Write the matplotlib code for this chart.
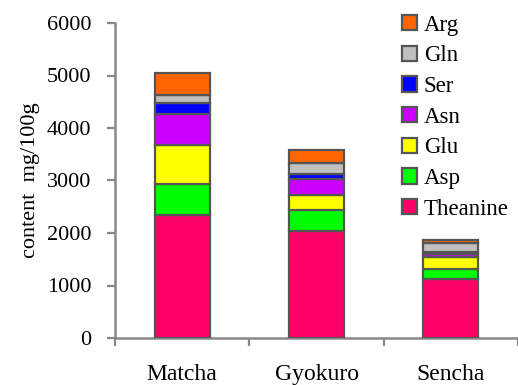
import numpy as np
import matplotlib
matplotlib.use("Agg")
import matplotlib.pyplot as plt

plt.rcParams['font.family'] = ['Liberation Serif', 'DejaVu Serif']

teas = ['Matcha', 'Gyokuro', 'Sencha']
amino = ['Theanine', 'Asp', 'Glu', 'Asn', 'Ser', 'Gln', 'Arg']
# mg/100g, one list per amino acid (Matcha, Gyokuro, Sencha)
theanine = [2350, 2030, 1130]
asp = [580, 400, 190]
glu = [740, 290, 230]
asn = [590, 310, 55]
ser = [220, 100, 25]
gln = [140, 200, 175]
arg = [430, 260, 65]
colors = ['#FF0066', '#00FF00', '#FFFF00', '#CC00FF', '#0000FF', '#C0C0C0', '#FF6600']

series = [theanine, asp, glu, asn, ser, gln, arg]

fig = plt.figure(figsize=(5.18, 3.85), dpi=100)
ax = fig.add_axes([115 / 518, 1 - 338 / 385, 403 / 518, 315 / 385])

x = np.arange(len(teas))
bottom = np.zeros(len(teas))
for name, vals, c in zip(amino, series, colors):
    ax.bar(x, vals, 0.41, bottom=bottom, color=c, edgecolor='#555555',
           linewidth=1.6, label=name, zorder=3)
    bottom += np.array(vals)

ax.set_xlim(-0.5, 2.5)
ax.set_ylim(0, 6000)
ax.set_yticks(range(0, 6001, 1000))
ax.set_xticks(x)
ax.set_xticklabels(teas)
ax.set_xticks([-0.5, 0.5, 1.5, 2.5], minor=True)
ax.tick_params(axis='x', which='major', length=0, pad=18.5, labelsize=17)
ax.tick_params(axis='x', which='minor', length=6, width=1.6, color='#888888')
ax.tick_params(axis='y', length=6, width=1.6, color='#888888', pad=11, labelsize=16)

for s in ['top', 'right']:
    ax.spines[s].set_visible(False)
for s in ['left', 'bottom']:
    ax.spines[s].set_color('#888888')
    ax.spines[s].set_linewidth(1.8)

ax.set_ylabel('content  mg/100g', fontsize=16, labelpad=5)

handles, labels = ax.get_legend_handles_labels()
ax.legend(handles[::-1], labels[::-1], loc='upper right', bbox_to_anchor=(1.0, 1.055),
          frameon=False, fontsize=16.5, handlelength=0.65, handleheight=0.65,
          handletextpad=0.3, labelspacing=0.42, borderaxespad=0)

fig.savefig('out.png', dpi=100)
